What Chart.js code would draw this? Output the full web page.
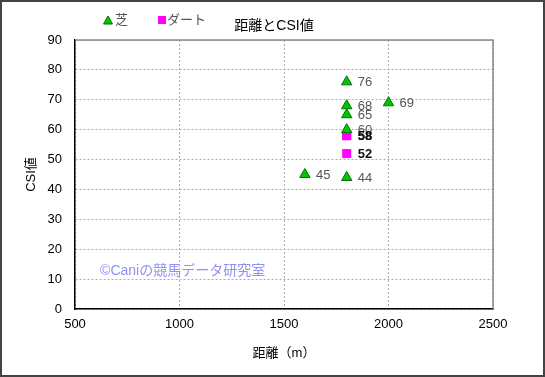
<!DOCTYPE html>
<html>
<head>
<meta charset="utf-8">
<script src="https://cdn.jsdelivr.net/npm/chart.js@4"></script>
<style>
  html, body { margin: 0; padding: 0; background: #fff; }
  #wrap { width: 545px; height: 377px; position: relative; }
</style>
</head>
<body>
<div id="wrap"><canvas id="c" width="545" height="377"></canvas></div>
<script>
const FONT = '"Liberation Sans", "Noto Sans CJK JP", sans-serif';

// 芝 (turf) points: distance, CSI
const turfDist = [1800, 1800, 1800, 1800, 1600, 1800, 2000];
const turfCsi = [76, 68, 65, 60, 45, 44, 69];

// ダート (dirt) points
const dirtDist = [1800, 1800, 1800];
const dirtCsi = [58, 58, 52];

const xTicks = [500, 1000, 1500, 2000, 2500];
const yTicks = [0, 10, 20, 30, 40, 50, 60, 70, 80, 90];

const toPoints = (xs, ys) => xs.map((x, i) => ({ x, y: ys[i] }));

// point labels, legend, title, frame and watermark
const decorations = {
  id: "decorations",
  afterDatasetsDraw(chart) {
    const { ctx, chartArea: a, scales } = chart;
    ctx.save();

    // top / right border of the plot area
    ctx.strokeStyle = "#888";
    ctx.lineWidth = 1.5;
    ctx.beginPath();
    ctx.moveTo(a.left, a.top);
    ctx.lineTo(a.right, a.top);
    ctx.lineTo(a.right, a.bottom);
    ctx.stroke();

    // value labels
    ctx.textBaseline = "middle";
    ctx.textAlign = "left";
    chart.data.datasets.forEach((ds, di) => {
      const meta = chart.getDatasetMeta(di);
      ctx.font = di === 0 ? "13px " + FONT : "bold 13px " + FONT;
      ctx.fillStyle = di === 0 ? "#555" : "#111";
      meta.data.forEach((el, i) => {
        ctx.fillText(String(ds.data[i].y), el.x + 11, el.y + 1);
      });
    });

    // watermark
    ctx.font = "14px " + FONT;
    ctx.fillStyle = "#9090f0";
    ctx.fillText("©Caniの競馬データ研究室", scales.x.getPixelForValue(620), scales.y.getPixelForValue(12.7));

    // title
    ctx.font = "14px " + FONT;
    ctx.fillStyle = "#000";
    ctx.textAlign = "center";
    ctx.fillText("距離とCSI値", 274, 26);

    // legend
    ctx.textAlign = "left";
    ctx.font = "13px " + FONT;
    ctx.fillStyle = "#00c800";
    ctx.strokeStyle = "#007000";
    ctx.lineWidth = 1;
    ctx.beginPath();
    ctx.moveTo(108, 16);
    ctx.lineTo(112.5, 24);
    ctx.lineTo(103.5, 24);
    ctx.closePath();
    ctx.fill();
    ctx.stroke();
    ctx.fillStyle = "#555";
    ctx.fillText("芝", 115, 20);
    ctx.fillStyle = "#ff00ff";
    ctx.fillRect(158, 16, 8, 8);
    ctx.fillStyle = "#555";
    ctx.fillText("ダート", 167, 20);

    // outer frame
    ctx.strokeStyle = "#444";
    ctx.lineWidth = 2;
    ctx.strokeRect(1, 1, 543, 375);
    ctx.restore();
  },
};

new Chart(document.getElementById("c"), {
  type: "scatter",
  data: {
    datasets: [
      {
        label: "芝",
        data: toPoints(turfDist, turfCsi),
        pointStyle: "triangle",
        pointRadius: 6,
        pointHoverRadius: 6,
        backgroundColor: "#00c800",
        borderColor: "#007000",
        borderWidth: 1,
      },
      {
        label: "ダート",
        data: toPoints(dirtDist, dirtCsi),
        pointStyle: "rect",
        pointRadius: 6.4,
        pointHoverRadius: 6.4,
        backgroundColor: "#ff00ff",
        borderColor: "#ff00ff",
        borderWidth: 0,
      },
    ],
  },
  options: {
    responsive: false,
    animation: false,
    layout: { padding: { top: 40, right: 52, left: 0, bottom: 0 } },
    plugins: {
      legend: { display: false },
      title: { display: false },
      tooltip: { enabled: false },
    },
    scales: {
      x: {
        type: "linear",
        min: 500,
        max: 2500,
        afterBuildTicks: (s) => { s.ticks = xTicks.map((v) => ({ value: v })); },
        afterFit: (s) => { s.height = 68; },
        grid: { color: "#aaa", drawTicks: false },
        border: { color: "#000", width: 1.5, dash: [2, 2] },
        ticks: { padding: 8, color: "#000", font: { family: FONT, size: 13 }, callback: (v) => String(v) },
        title: {
          display: true,
          text: "距離（m）",
          color: "#000",
          font: { family: FONT, size: 13 },
          padding: { top: 0, bottom: 16 },
        },
      },
      y: {
        min: 0,
        max: 90,
        afterBuildTicks: (s) => { s.ticks = yTicks.map((v) => ({ value: v })); },
        afterFit: (s) => { s.width = 75; },
        grid: { color: "#aaa", drawTicks: false },
        border: { color: "#000", width: 1.5, dash: [2, 2] },
        ticks: { padding: 13, color: "#000", font: { family: FONT, size: 13 }, callback: (v) => String(v) },
        title: {
          display: true,
          text: "CSI値",
          color: "#000",
          font: { family: FONT, size: 13 },
          padding: { top: 24, bottom: 0 },
        },
      },
    },
  },
  plugins: [decorations],
});
</script>
</body>
</html>
